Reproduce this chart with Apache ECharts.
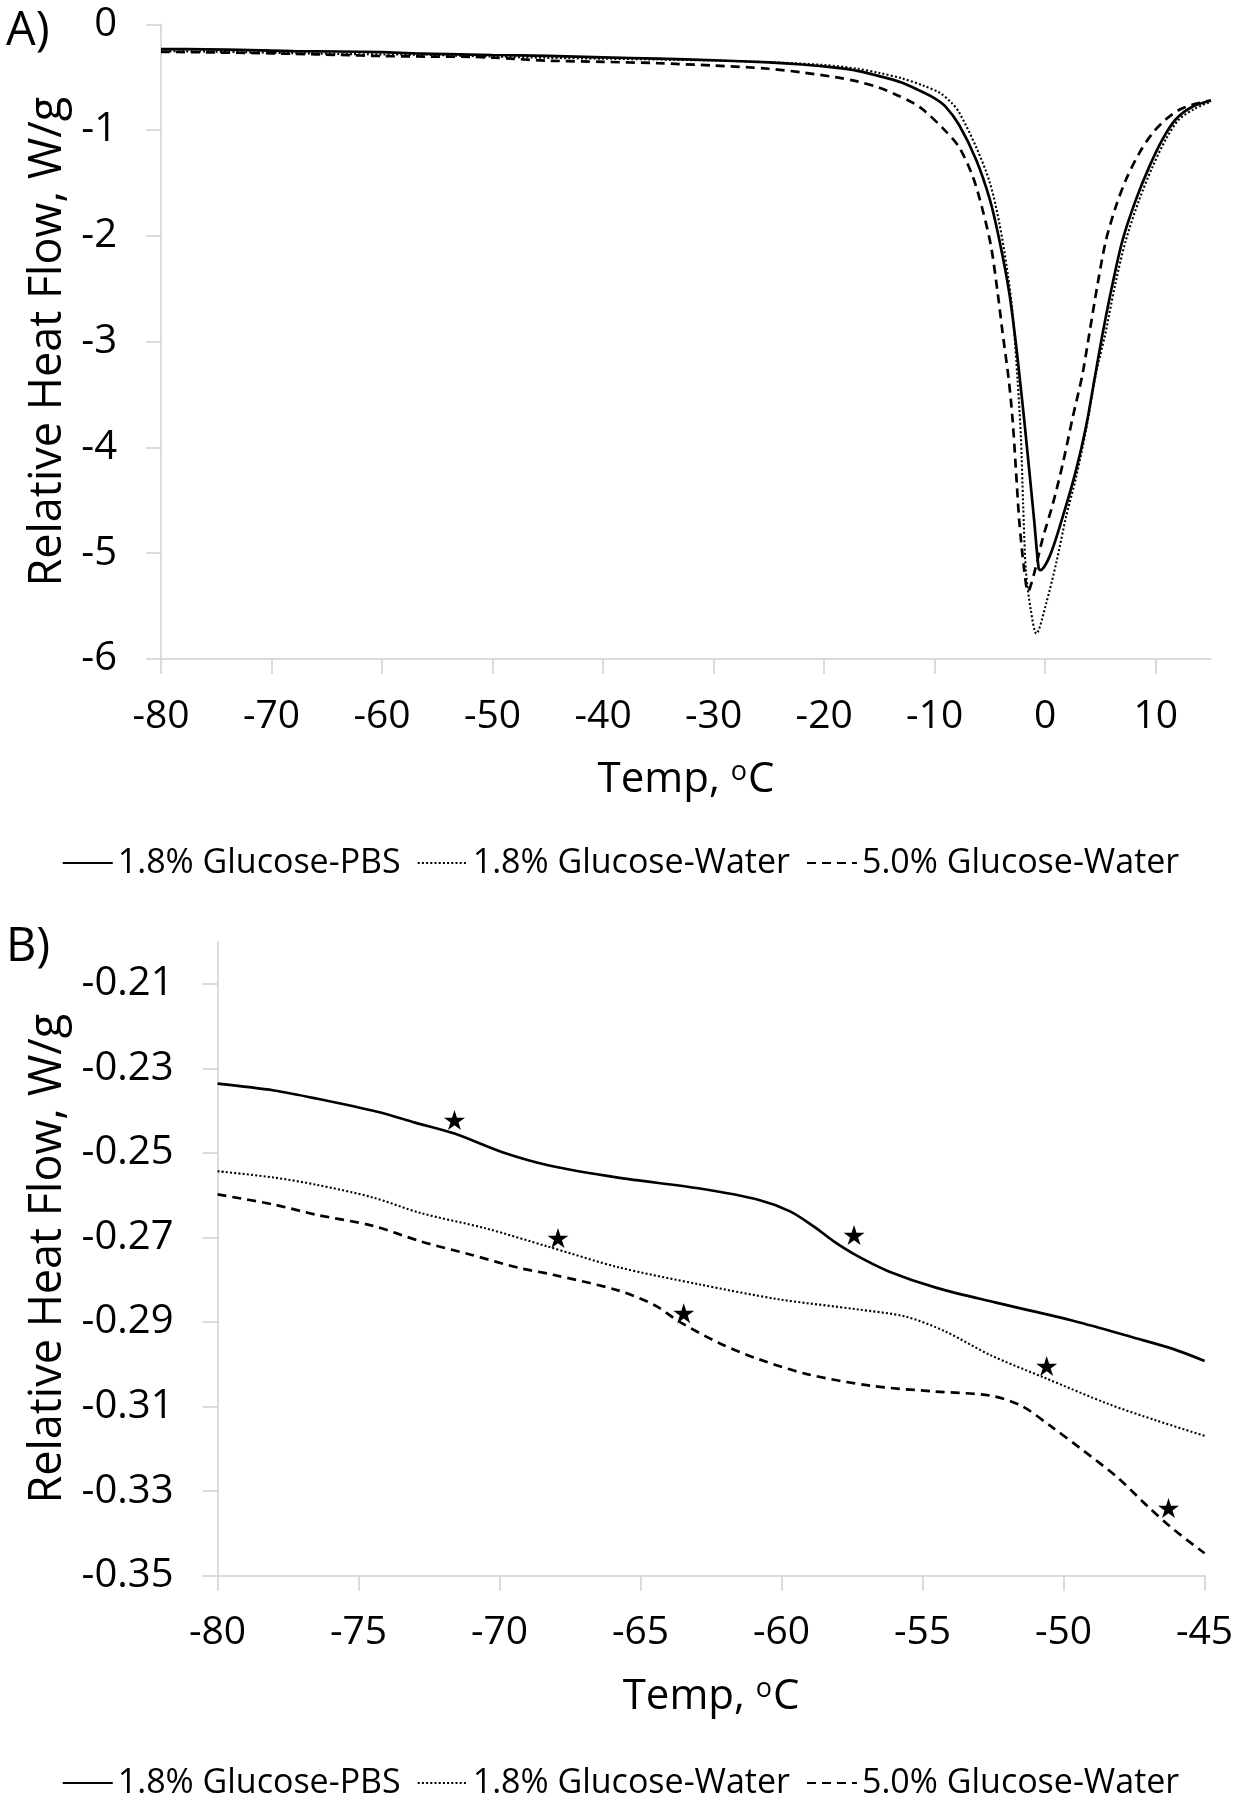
<!DOCTYPE html>
<html>
<head>
<meta charset="utf-8">
<script src="https://cdn.jsdelivr.net/npm/echarts@6/dist/echarts.min.js"></script>
<style>
html,body{margin:0;padding:0;background:#fff;}
#chart{width:1241px;height:1800px;}
</style>
</head>
<body>
<div id="chart"></div>
<script>
// ---------- Data ----------
const seriesNames = ['1.8% Glucose-PBS', '1.8% Glucose-Water', '5.0% Glucose-Water'];

// Panel A: Temp (°C), Relative Heat Flow (W/g)
const aPbs = [[-80,-0.234],[-76,-0.237],[-72,-0.244],[-68,-0.253],[-64,-0.257],[-60,-0.263],[-57,-0.275],[-54,-0.282],[-50,-0.290],[-45,-0.299],[-40,-0.312],[-35,-0.325],[-30,-0.340],[-25,-0.360],[-22,-0.380],[-19,-0.41],[-17,-0.44],[-15,-0.49],[-13,-0.55],[-11.5,-0.62],[-10,-0.70],[-9,-0.78],[-7.8,-0.95],[-6.25,-1.28],[-5.0,-1.66],[-4.15,-2.04],[-3.25,-2.54],[-2.65,-3.02],[-2.3,-3.35],[-1.9,-3.74],[-1.45,-4.21],[-1.0,-4.69],[-0.6,-5.14],[-0.45,-5.16],[0.4,-5.03],[1.6,-4.65],[2.8,-4.21],[3.7,-3.80],[4.5,-3.33],[5.2,-2.92],[6.1,-2.45],[7.0,-2.04],[8.2,-1.66],[9.4,-1.35],[10.6,-1.09],[11.8,-0.90],[13.3,-0.78],[15,-0.72]];
const aWater18 = [[-80,-0.254],[-76,-0.258],[-72,-0.265],[-68,-0.273],[-64,-0.280],[-60,-0.285],[-56,-0.288],[-53,-0.297],[-50,-0.305],[-45,-0.317],[-40,-0.325],[-35,-0.333],[-30,-0.343],[-25,-0.358],[-20,-0.385],[-17,-0.42],[-15,-0.46],[-13,-0.51],[-11,-0.58],[-9.5,-0.65],[-8.5,-0.74],[-7.8,-0.83],[-6.25,-1.16],[-5.0,-1.50],[-4.15,-1.88],[-3.4,-2.35],[-2.95,-2.73],[-2.5,-3.36],[-2.2,-3.90],[-2.0,-4.53],[-1.75,-5.16],[-1.3,-5.54],[-0.8,-5.76],[0.1,-5.47],[1.0,-5.09],[1.9,-4.65],[2.8,-4.28],[3.7,-3.83],[4.6,-3.30],[5.45,-2.92],[6.35,-2.45],[7.3,-2.04],[8.5,-1.66],[9.7,-1.35],[10.9,-1.09],[12.1,-0.90],[13.5,-0.80],[15,-0.73]];
const aWater50 = [[-80,-0.260],[-76,-0.265],[-72,-0.271],[-68,-0.279],[-64,-0.289],[-60,-0.300],[-56,-0.305],[-52,-0.308],[-50,-0.315],[-48,-0.327],[-45,-0.344],[-40,-0.355],[-35,-0.368],[-30,-0.390],[-25,-0.420],[-22,-0.455],[-19,-0.50],[-17,-0.54],[-15,-0.60],[-13.4,-0.67],[-12,-0.74],[-10.9,-0.82],[-9.1,-1.0],[-7.8,-1.16],[-6.55,-1.44],[-5.65,-1.76],[-4.9,-2.10],[-4.3,-2.54],[-3.85,-2.92],[-3.3,-3.36],[-2.95,-3.74],[-2.65,-4.21],[-2.35,-4.69],[-1.9,-5.16],[-1.55,-5.36],[-1.0,-5.19],[-0.25,-4.87],[0.7,-4.53],[1.6,-4.15],[2.5,-3.71],[3.35,-3.32],[4.0,-2.92],[4.75,-2.45],[5.5,-2.04],[6.4,-1.72],[7.3,-1.47],[8.5,-1.22],[9.7,-1.03],[10.9,-0.90],[12.1,-0.81],[13.3,-0.76],[15,-0.72]];

// Panel B: zoom on -80 .. -45 °C
const bPbs = [[-80,-0.2336],[-78,-0.2352],[-76.5,-0.2371],[-74.3,-0.2403],[-73,-0.2428],[-71.6,-0.2454],[-69.9,-0.2498],[-68.2,-0.2530],[-65.8,-0.2558],[-62.9,-0.2584],[-60.8,-0.2611],[-59.7,-0.2638],[-58.85,-0.2674],[-58.15,-0.2709],[-57.3,-0.2744],[-56.2,-0.2780],[-54.5,-0.2819],[-52.4,-0.2854],[-49.6,-0.2898],[-47.5,-0.2937],[-46.1,-0.2964],[-45,-0.2992]];
const bWater18 = [[-80,-0.2543],[-78,-0.2558],[-76.5,-0.2575],[-74.5,-0.2605],[-72.8,-0.2642],[-70.5,-0.2678],[-68.3,-0.2721],[-65.8,-0.2770],[-62.9,-0.2811],[-60.1,-0.2846],[-57.3,-0.2870],[-55.6,-0.2887],[-54.2,-0.2922],[-52.6,-0.2978],[-50.7,-0.3031],[-48.4,-0.3094],[-46.7,-0.3133],[-45,-0.3169]];
const bWater50 = [[-80,-0.2598],[-78,-0.2622],[-76.5,-0.2646],[-74.5,-0.2672],[-72.8,-0.2709],[-71.05,-0.2740],[-69.3,-0.2772],[-68.1,-0.2788],[-65.8,-0.2825],[-64.5,-0.2860],[-63.6,-0.2900],[-62.2,-0.2950],[-60.8,-0.2988],[-59.1,-0.3023],[-56.8,-0.3051],[-54.6,-0.3064],[-52.6,-0.3074],[-51.5,-0.3098],[-50.4,-0.3149],[-49.3,-0.3204],[-48.1,-0.3267],[-47,-0.3337],[-46.2,-0.3385],[-45,-0.3447]];
const bStars = [[-71.6,-0.2422],[-67.93,-0.2701],[-63.47,-0.2879],[-57.43,-0.2694],[-50.6,-0.3004],[-46.28,-0.3340]];

// Tick labels
const aXTicks = [-80,-70,-60,-50,-40,-30,-20,-10,0,10];
const aYTicks = [-6,-5,-4,-3,-2,-1,0];
const bXTicks = [-80,-75,-70,-65,-60,-55,-50,-45];
const bYTicks = [-0.35,-0.33,-0.31,-0.29,-0.27,-0.25,-0.23,-0.21];

// ---------- Chart ----------
const FONT = '"Open Sans", "Noto Sans", sans-serif';
const AXIS_GRAY = '#d0d0d0';
const STAR = 'path://M0,-10 L2.245,-3.09 L9.511,-3.09 L3.633,1.18 L5.878,8.09 L0,3.82 L-5.878,8.09 L-3.633,1.18 L-9.511,-3.09 L-2.245,-3.09 Z';

function xAxisCfg(gridIndex, min, max, ticks) {
  return {
    type: 'value', gridIndex, min, max,
    name: 'Temp, {s|o}C', nameLocation: 'middle', nameGap: 100,
    nameTextStyle: { fontSize: 42, color: '#000', fontFamily: FONT,
      rich: { s: { fontSize: 27, color: '#000', fontFamily: FONT, verticalAlign: 'top', padding: [0, 1, 0, 0] } } },
    axisLine: { show: true, onZero: false, lineStyle: { color: AXIS_GRAY, width: 1.5 } },
    axisTick: { show: true, length: 15, customValues: ticks, lineStyle: { color: AXIS_GRAY, width: 1.5 } },
    axisLabel: { customValues: ticks, margin: 38, fontSize: 39, color: '#000', fontFamily: FONT },
    splitLine: { show: false }
  };
}
function yAxisCfg(gridIndex, min, max, ticks, gap, fmt) {
  return {
    type: 'value', gridIndex, min, max,
    name: 'Relative Heat Flow, W/g', nameLocation: 'middle', nameGap: gap,
    nameTextStyle: { fontSize: 45, color: '#000', fontFamily: FONT },
    axisLine: { show: true, onZero: false, lineStyle: { color: AXIS_GRAY, width: 1.5 } },
    axisTick: { show: true, length: 15, customValues: ticks, lineStyle: { color: AXIS_GRAY, width: 1.5 } },
    axisLabel: { customValues: ticks, margin: 44, fontSize: 40, color: '#000', fontFamily: FONT, formatter: fmt },
    splitLine: { show: false }
  };
}
const styles = [
  { width: 2.7, type: 'solid' },
  { width: 2.1, type: [2, 2.2] },
  { width: 2.7, type: [9, 6] }
];
function lineSeries(i, data, axisIdx) {
  return {
    name: seriesNames[i], type: 'line', data,
    xAxisIndex: axisIdx, yAxisIndex: axisIdx,
    symbol: 'none', smooth: 0.3,
    itemStyle: { color: '#000' },
    lineStyle: Object.assign({ color: '#000' }, styles[i]),
    emphasis: { disabled: true }, silent: true, animation: false
  };
}
function legendCfg(top) {
  return {
    data: seriesNames, top, left: 'center',
    itemWidth: 50, itemHeight: 12, itemGap: 16,
    itemStyle: { opacity: 0 },
    textStyle: { fontSize: 34, color: '#000', fontFamily: FONT },
    selectedMode: false
  };
}

const option = {
  animation: false,
  backgroundColor: '#ffffff',
  textStyle: { fontFamily: FONT },
  graphic: [
    { type: 'text', left: 6, top: 8, style: { text: 'A)', font: '47px "Open Sans"', fill: '#000' } },
    { type: 'text', left: 6, top: 924, style: { text: 'B)', font: '47px "Open Sans"', fill: '#000' } }
  ],
  grid: [
    { left: 161, right: 30, top: 24.3, bottom: 1141, containLabel: false },
    { left: 217.6, right: 36.4, top: 941.7, bottom: 224.3, containLabel: false }
  ],
  legend: [legendCfg(841), legendCfg(1761)],
  xAxis: [
    xAxisCfg(0, -80, 15, aXTicks),
    xAxisCfg(1, -80, -45, bXTicks)
  ],
  yAxis: [
    yAxisCfg(0, -6, 0, aYTicks, 84, v => String(v)),
    yAxisCfg(1, -0.35, -0.20, bYTicks, 140, v => v.toFixed(2))
  ],
  series: [
    lineSeries(0, aPbs, 0), lineSeries(1, aWater18, 0), lineSeries(2, aWater50, 0),
    lineSeries(0, bPbs, 1), lineSeries(1, bWater18, 1), lineSeries(2, bWater50, 1),
    {
      name: 'stars', type: 'scatter', data: bStars, xAxisIndex: 1, yAxisIndex: 1,
      symbol: STAR, symbolSize: [21, 20], itemStyle: { color: '#000', opacity: 1 }, z: 5, silent: true
    }
  ]
};

const chart = echarts.init(document.getElementById('chart'), null, { renderer: 'canvas', width: 1241, height: 1800 });
chart.setOption(option);
</script>
</body>
</html>
